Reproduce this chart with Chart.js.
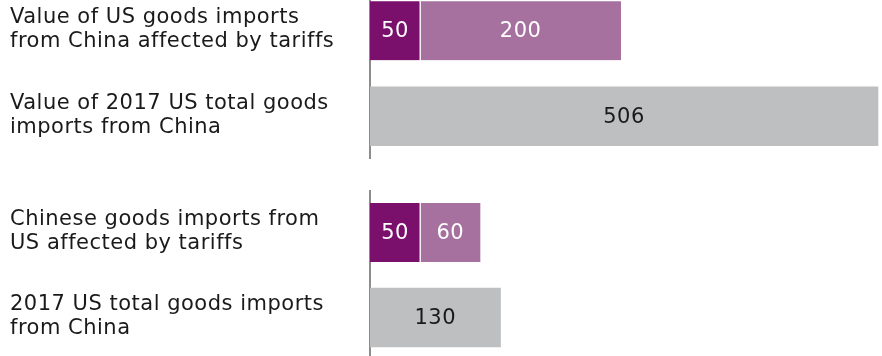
<!DOCTYPE html>
<html>
<head>
<meta charset="utf-8">
<script src="https://cdn.jsdelivr.net/npm/chart.js@4"></script>
<style>
  html, body { margin: 0; padding: 0; background: #fff; overflow: hidden; }
  body { width: 882px; height: 356px; position: relative; }
  .box { position: absolute; left: 0; width: 882px; }
  #top-box { top: -12px; height: 171px; }
  #bottom-box { top: 190px; height: 170px; }
</style>
</head>
<body>
<div class="box" id="top-box"><canvas id="us-chart" width="882" height="171"></canvas></div>
<div class="box" id="bottom-box"><canvas id="cn-chart" width="882" height="170"></canvas></div>
<script>
// top group: US tariffs on Chinese goods
const usCategories = [
  ["Value of US goods imports", "from China affected by tariffs"],
  ["Value of 2017 US total goods", "imports from China"]
];
const usFirst = [50, null];
const usSecond = [200, null];
const usTotal = [null, 506];

// bottom group: Chinese tariffs on US goods
const cnCategories = [
  ["Chinese goods imports from", "US affected by tariffs"],
  ["2017 US total goods imports", "from China"]
];
const cnFirst = [50, null];
const cnSecond = [60, null];
const cnTotal = [null, 130];

const darkPurple = "#7b106c";
const lightPurple = "#a6709f";
const grey = "#bebfc1";
const fontFamily = "'DejaVu Sans', sans-serif";

// the original type is a wide grotesque; widen DejaVu a little
const spacing = {
  id: "spacing",
  beforeDraw(chart) {
    chart.ctx.letterSpacing = "0.5px";
  }
};

const valueLabels = {
  id: "valueLabels",
  afterDatasetsDraw(chart) {
    const ctx = chart.ctx;
    ctx.save();
    ctx.font = "21px " + fontFamily;
    ctx.textAlign = "center";
    ctx.textBaseline = "middle";
    chart.data.datasets.forEach((ds, i) => {
      const meta = chart.getDatasetMeta(i);
      meta.data.forEach((bar, j) => {
        const v = ds.data[j];
        if (v === null || v === undefined) return;
        const p = bar.getProps(["x", "y", "base"], true);
        ctx.fillStyle = ds.labelColor;
        ctx.fillText(String(v), (p.x + p.base) / 2, p.y + 1);
      });
    });
    ctx.restore();
  }
};

function makeChart(id, categories, first, second, total, max) {
  const ctx = document.getElementById(id).getContext("2d");
  return new Chart(ctx, {
    type: "bar",
    plugins: [spacing, valueLabels],
    data: {
      labels: categories,
      datasets: [
        {
          data: first,
          backgroundColor: darkPurple,
          borderColor: "#fff",
          borderWidth: { right: 1, left: 0, top: 0, bottom: 0 },
          borderSkipped: false,
          labelColor: "#fff",
        },
        {
          data: second,
          backgroundColor: lightPurple,
          borderColor: "#fff",
          borderWidth: { left: 1, right: 0, top: 0, bottom: 0 },
          borderSkipped: false,
          labelColor: "#fff",
        },
        {
          data: total,
          backgroundColor: grey,
          borderWidth: 0,
          labelColor: "#1a1a1a",
        },
      ],
    },
    options: {
      indexAxis: "y",
      responsive: false,
      animation: false,
      barThickness: 59,
      layout: { padding: { left: 10, right: 0, top: 0, bottom: 0 } },
      plugins: {
        legend: { display: false },
        tooltip: { enabled: false },
      },
      scales: {
        x: {
          display: false,
          stacked: true,
          min: 0,
          max: max,
        },
        y: {
          stacked: true,
          afterFit: (scale) => {
            scale.width = 360;
            scale.paddingTop = 0;
            scale.paddingBottom = 0;
          },
          grid: { display: false, drawTicks: false },
          border: { display: true, color: "#8c8c8c", width: 2 },
          ticks: {
            crossAlign: "far",
            labelOffset: -1,
            color: "#1a1a1a",
            font: { family: fontFamily, size: 21, lineHeight: 1.15 },
          },
        },
      },
    },
  });
}

makeChart("us-chart", usCategories, usFirst, usSecond, usTotal, 510);
makeChart("cn-chart", cnCategories, cnFirst, cnSecond, cnTotal, 510);
</script>
</body>
</html>
